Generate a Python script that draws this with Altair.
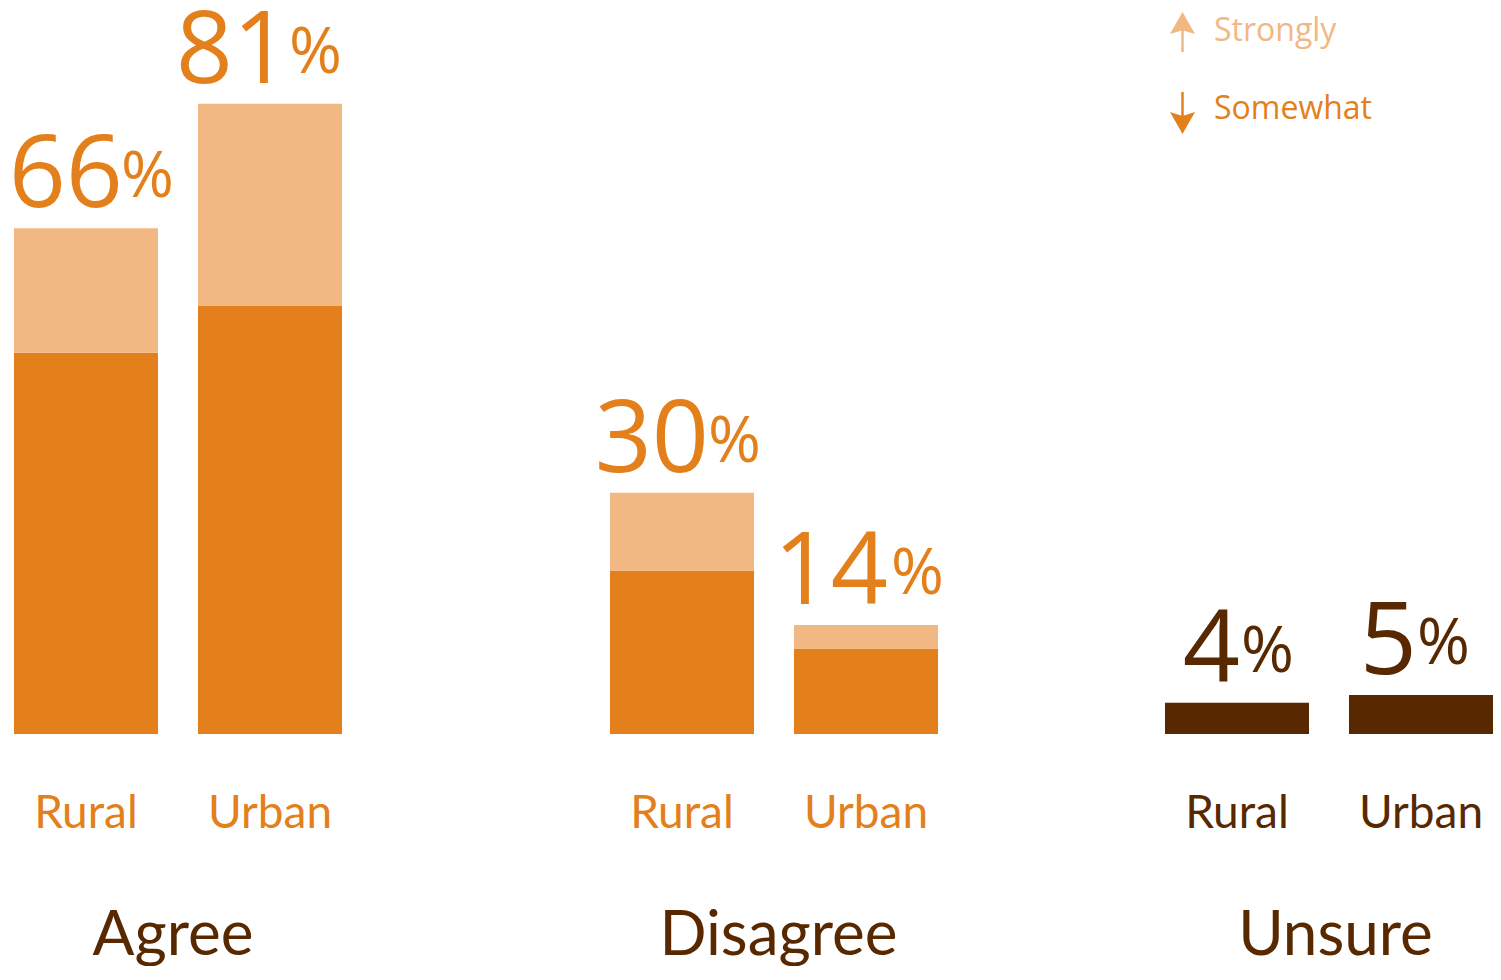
import altair as alt
import pandas as pd

FONT = "Open Sans"
LFONT = "Lato"
ORANGE = "#E3801C"
LIGHT = "#F1B883"
BROWN = "#582800"

areas = ["Rural", "Urban"]
groups = ["Agree", "Disagree", "Unsure"]

agree_somewhat = [49, 55]
agree_strongly = [16, 26]
disagree_somewhat = [21, 11]
disagree_strongly = [10, 3]
unsure_values = [4, 5]

agree_labels = ["66", "81"]
disagree_labels = ["30", "14"]
unsure_labels = ["4", "5"]

seg_domain = ["Somewhat", "Strongly", "Unsure"]
seg_colors = [ORANGE, LIGHT, BROWN]

# ---- build tables from the arrays ----
rows = []
label_rows = []
for g, som, stro, labs in [("Agree", agree_somewhat, agree_strongly, agree_labels),
                           ("Disagree", disagree_somewhat, disagree_strongly, disagree_labels)]:
    for a, s1, s2, lab in zip(areas, som, stro, labs):
        rows.append({"group": g, "area": a, "segment": "Somewhat", "value": s1, "order": 0})
        rows.append({"group": g, "area": a, "segment": "Strongly", "value": s2, "order": 1})
        label_rows.append({"group": g, "area": a, "top": s1 + s2, "label": lab})
for a, v, lab in zip(areas, unsure_values, unsure_labels):
    rows.append({"group": "Unsure", "area": a, "segment": "Unsure", "value": v, "order": 0})
    label_rows.append({"group": "Unsure", "area": a, "top": v, "label": lab})

bars_df = pd.DataFrame(rows)
labels_df = pd.DataFrame(label_rows)

PI = 40 / 184
H = 726
YMAX = 93.3


def panel(group, width, p_outer, align, title_x, label_color, num_color,
          num_dx, pct_dx, clips):
    xscale = alt.Scale(domain=areas, paddingInner=PI, paddingOuter=p_outer,
                       align=align, round=False)
    yscale = alt.Scale(domain=[0, YMAX], nice=False, zero=True)
    xenc = alt.X("area:N", scale=xscale, sort=areas,
                 axis=alt.Axis(title=group, domain=False, ticks=False, tickSize=0,
                               labelAngle=0, labelFontSize=46, labelColor=label_color,
                               labelFont=LFONT, labelBaseline="alphabetic", labelPadding=93,
                               titleFont=LFONT, titleFontSize=62, titleColor=BROWN,
                               titleFontWeight="normal", titleBaseline="alphabetic",
                               titleAlign="center", titleX=title_x, titleY=220))
    yenc_v = alt.Y("value:Q", stack="zero", scale=yscale, axis=None)
    yenc_t = alt.Y("top:Q", scale=yscale, axis=None)
    layers = [alt.Chart(bars_df).transform_filter(alt.datum.group == group).mark_bar().encode(
        x=xenc, y=yenc_v,
        color=alt.Color("segment:N", scale=alt.Scale(domain=seg_domain, range=seg_colors),
                        legend=None),
        order=alt.Order("order:Q"),
    )]
    for area, ndx, pdx, clp in zip(areas, num_dx, pct_dx, clips):
        base_t = alt.Chart(labels_df).transform_filter(
            (alt.datum.group == group) & (alt.datum.area == area))
        layers.append(base_t.mark_text(align="right", baseline="alphabetic", dx=ndx, dy=-21,
                                       fontSize=100, font=FONT, color=num_color, clip=clp
                                       ).encode(x=xenc, y=yenc_t, text="label:N"))
        layers.append(base_t.mark_text(align="left", baseline="alphabetic", dx=pdx,
                                       dy=-31, fontSize=64, font=FONT, color=num_color,
                                       text="%").encode(x=xenc, y=yenc_t))
    return layers


one = pd.DataFrame({"k": [0]})
UP = "M0,-1 L1,0.76 L0,0.45 L-1,0.76 Z"
DOWN = "M0,1 L1,-0.76 L0,-0.45 L-1,-0.76 Z"
AX = 128.5
LY = 4  # legend vertical offset inside the panel
legend_layers = [
    alt.Chart(one).mark_rule(color=LIGHT, strokeWidth=2.5).encode(
        x=alt.value(AX), y=alt.value(LY + 14), y2=alt.value(LY + 40)),
    alt.Chart(one).mark_point(shape=UP, filled=True, size=625, color=LIGHT, opacity=1,
                              strokeWidth=0).encode(x=alt.value(AX), y=alt.value(LY + 12.5)),
    alt.Chart(one).mark_text(text="Strongly", align="left", baseline="alphabetic",
                             fontSize=32, font=FONT, color=LIGHT).encode(
        x=alt.value(160), y=alt.value(LY + 29)),
    alt.Chart(one).mark_rule(color=ORANGE, strokeWidth=2.5).encode(
        x=alt.value(AX), y=alt.value(LY + 80), y2=alt.value(LY + 108)),
    alt.Chart(one).mark_point(shape=DOWN, filled=True, size=625, color=ORANGE, opacity=1,
                              strokeWidth=0).encode(x=alt.value(AX), y=alt.value(LY + 109.5)),
    alt.Chart(one).mark_text(text="Somewhat", align="left", baseline="alphabetic",
                             fontSize=32, font=FONT, color=ORANGE).encode(
        x=alt.value(160), y=alt.value(LY + 107)),
]

W1, W2, W3 = 468, 578, 439


def po(w):
    return (w / 184 - (2 - PI)) / 2


p1 = alt.layer(*panel("Agree", W1, po(W1), 6 / (W1 - 328), 164.5, ORANGE, ORANGE,
                      [37, 20], [35, 19], [False, True])
               ).properties(width=W1, height=H)
p2 = alt.layer(*panel("Disagree", W2, po(W2), 134 / (W2 - 328), 302, ORANGE, ORANGE,
                      [27, 22], [26, 25], [False, False])
               ).properties(width=W2, height=H)
p3 = alt.layer(*(panel("Unsure", W3, po(W3), 1.0, 281, BROWN, BROWN,
                       [3, -4], [4, -4], [False, False]) + legend_layers)
               ).properties(width=W3, height=H)

chart = alt.hconcat(p1, p2, p3, spacing=0, bounds="flush").properties(
    padding=0
).configure_view(stroke=None).configure_text(font=FONT)

chart.save("out.html", embed_options={"renderer": "svg", "actions": False})
